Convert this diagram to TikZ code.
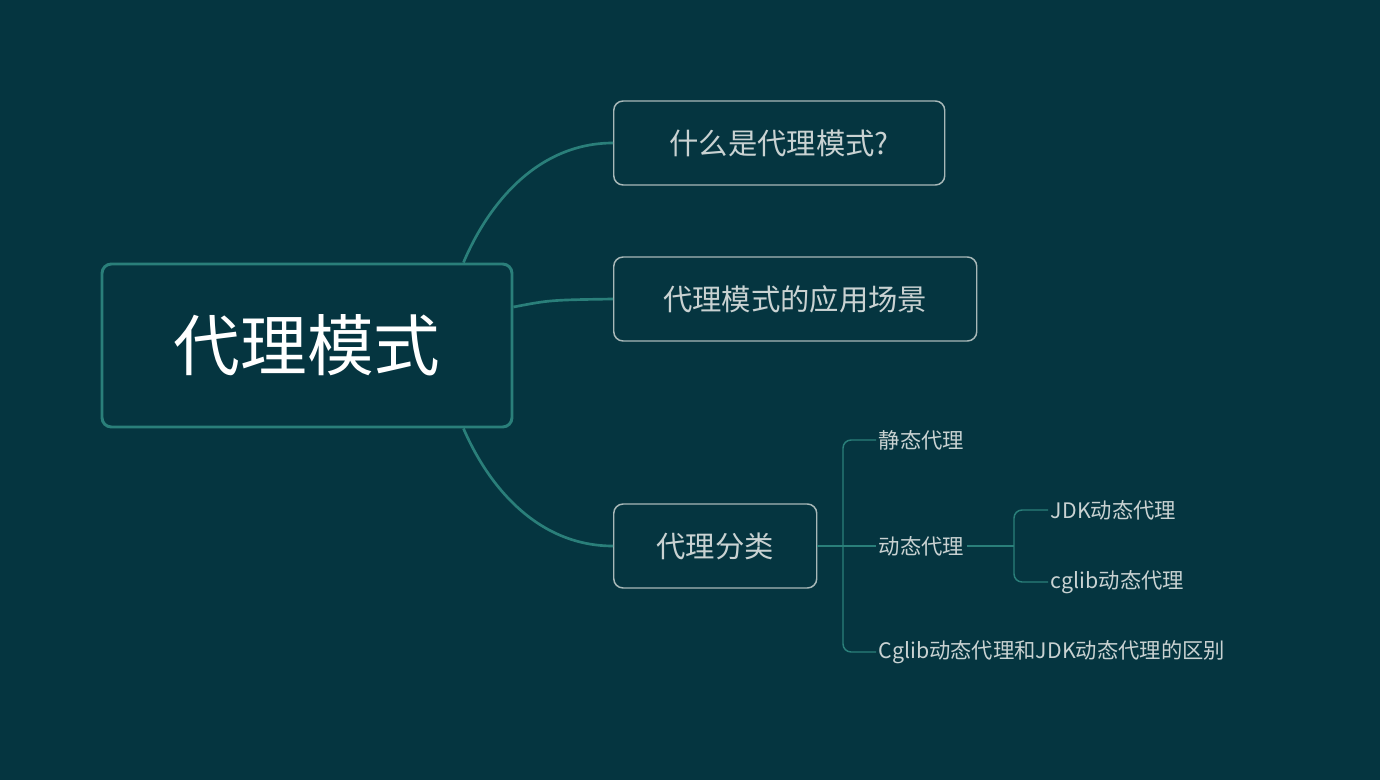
\documentclass[tikz,border=0pt]{standalone}
\usepackage{fontspec}
\setmainfont{Noto Sans CJK SC}
\definecolor{bg}{HTML}{053540}
\definecolor{teal}{HTML}{2A7F7A}
\definecolor{boxline}{HTML}{A8B8B8}
\definecolor{txt}{HTML}{C9D2D2}
\begin{document}
\begin{tikzpicture}[x=0.75pt,y=-0.75pt,
  root/.style={draw=teal,line width=2.2pt,rounded corners=7pt,minimum width=410*0.75pt,minimum height=163*0.75pt,text=white,font=\fontsize{50}{56}\selectfont,fill=bg},
  topic/.style={draw=boxline,line width=1.1pt,rounded corners=7pt,minimum height=84*0.75pt,text=txt,font=\fontsize{22}{26}\selectfont,inner xsep=28pt,anchor=west,fill=bg},
  leaf/.style={text=txt,font=\fontsize{16}{19}\selectfont,anchor=west,inner sep=2pt},
  conn/.style={draw=teal,line width=2pt},
  sub/.style={draw=teal,line width=1.1pt,rounded corners=6pt}]
\fill[bg] (0,0) rectangle (1380,780);
\node[root] (r) at (307,345.5) {代理模式};
\node[topic,minimum width=331*0.75pt] (a) at (613,143) {什么是代理模式?};
\node[topic,minimum width=363*0.75pt] (b) at (613,299) {代理模式的应用场景};
\node[topic,minimum width=203*0.75pt] (c) at (613,546) {代理分类};
\draw[conn] (r.north east) ++(-50,0) coordinate (r1) .. controls (490,200) and (540,143) .. (a.west);
\draw[conn] (r.east |- 0,307) coordinate (r2) .. controls (550,300) .. (b.west);
\draw[conn] (r.south east) ++(-50,0) coordinate (r3) .. controls (490,490) and (540,546) .. (c.west);
\node[leaf] (l1) at (876,440) {静态代理};
\node[leaf] (l2) at (876,546) {动态代理};
\node[leaf] (l3) at (876,652) {Cglib动态代理和JDK动态代理的区别};
\node[leaf] (m1) at (1048,510) {JDK动态代理};
\node[leaf] (m2) at (1048,582) {cglib动态代理};
\coordinate (j1) at (843,546);
\draw[sub] (c.east) -- (l2.west);
\draw[sub] (l1.west) -- (843,440) -- (843,652) -- (l3.west);
\coordinate (j2) at (1014,546);
\draw[sub] (l2.east) -- (j2);
\draw[sub] (m1.west) -- (1014,510) -- (1014,582) -- (m2.west);
\end{tikzpicture}
\end{document}
